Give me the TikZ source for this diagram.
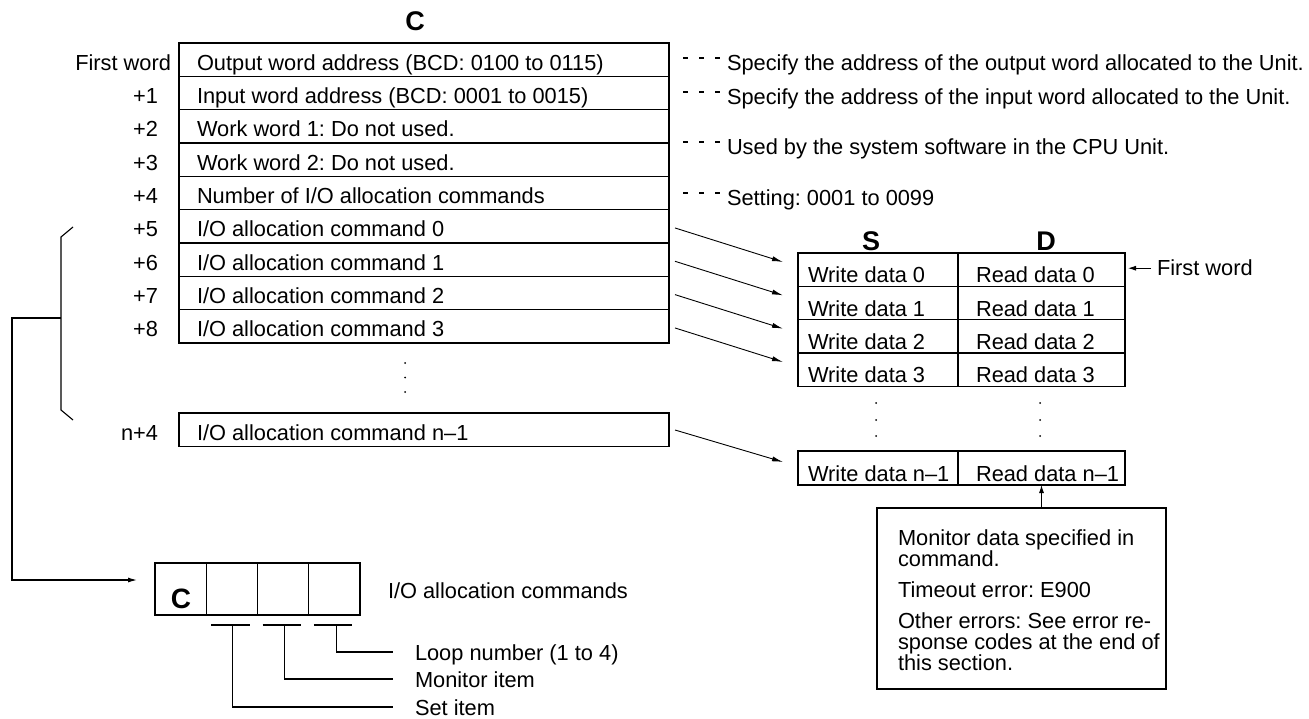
\documentclass[tikz,border=0pt]{standalone}
\usepackage{fontspec}
\setmainfont{Liberation Sans}
\usetikzlibrary{arrows.meta}
\begin{document}
\frenchspacing
\begin{tikzpicture}[x=1pt,y=-1pt,
  every node/.style={inner sep=0pt, outer sep=0pt},
  txt/.style={font=\fontsize{21.8}{24}\selectfont, text=black},
  bigl/.style={font=\bfseries\fontsize{27}{30}\selectfont, text=black},
  cell/.style={draw, line width=1.1pt, minimum width=490pt, minimum height=33.33pt, anchor=north west},
  scell/.style={draw, line width=1.1pt, minimum width=160pt, minimum height=33.33pt, anchor=north west},
  dcell/.style={draw, line width=1.1pt, minimum width=167pt, minimum height=33.33pt, anchor=north west},
  ccell/.style={draw, line width=1.1pt, minimum width=51.25pt, minimum height=52pt, anchor=north west},
  ln/.style={line width=1.1pt},
  arr/.style={line width=0.9pt, -{Latex[length=11pt,width=5pt]}},
  sarr/.style={line width=0.9pt, -{Latex[length=8pt,width=5pt]}},
  lead/.style={line width=1.1pt, dash pattern=on 5pt off 11pt},
  dotm/.style={fill=black, circle, minimum size=2pt},
]
\useasboundingbox (0,0) rectangle (1309,719);

% ---------- main table C ----------
\node[bigl, anchor=base] (ctitle) at (415,31) {C};
\foreach \i in {0,...,8} \node[cell] (r\i) at (179,{43+33.333*\i}) {};
\node[cell] (rn) at (179,413) {};

\node[txt, anchor=base west] (t0) at ([shift={(18,-6.3)}]r0.south west) {Output word address (BCD: 0100 to 0115)};
\node[txt, anchor=base west] (t1) at ([shift={(18,-6.3)}]r1.south west) {Input word address (BCD: 0001 to 0015)};
\node[txt, anchor=base west] (t2) at ([shift={(18,-6.3)}]r2.south west) {Work word 1: Do not used.};
\node[txt, anchor=base west] (t3) at ([shift={(18,-6.3)}]r3.south west) {Work word 2: Do not used.};
\node[txt, anchor=base west] (t4) at ([shift={(18,-6.3)}]r4.south west) {Number of I/O allocation commands};
\node[txt, anchor=base west] (t5) at ([shift={(18,-6.3)}]r5.south west) {I/O allocation command 0};
\node[txt, anchor=base west] (t6) at ([shift={(18,-6.3)}]r6.south west) {I/O allocation command 1};
\node[txt, anchor=base west] (t7) at ([shift={(18,-6.3)}]r7.south west) {I/O allocation command 2};
\node[txt, anchor=base west] (t8) at ([shift={(18,-6.3)}]r8.south west) {I/O allocation command 3};
\node[txt, anchor=base west] (tn) at ([shift={(18,-6.3)}]rn.south west) {I/O allocation command n\textendash1};

\node[txt, anchor=base east] (l0) at ([shift={(-8,-6.3)}]r0.south west) {First word};
\node[txt, anchor=base east] (l1) at ([shift={(-21,-6.3)}]r1.south west) {+1};
\node[txt, anchor=base east] (l2) at ([shift={(-21,-6.3)}]r2.south west) {+2};
\node[txt, anchor=base east] (l3) at ([shift={(-21,-6.3)}]r3.south west) {+3};
\node[txt, anchor=base east] (l4) at ([shift={(-21,-6.3)}]r4.south west) {+4};
\node[txt, anchor=base east] (l5) at ([shift={(-21,-6.3)}]r5.south west) {+5};
\node[txt, anchor=base east] (l6) at ([shift={(-21,-6.3)}]r6.south west) {+6};
\node[txt, anchor=base east] (l7) at ([shift={(-21,-6.3)}]r7.south west) {+7};
\node[txt, anchor=base east] (l8) at ([shift={(-21,-6.3)}]r8.south west) {+8};
\node[txt, anchor=base east] (ln4) at ([shift={(-21,-6.3)}]rn.south west) {n+4};

\node[dotm] (md1) at (405,363) {};
\node[dotm] (md2) at (405,377.5) {};
\node[dotm] (md3) at (405,392) {};

% ---------- right descriptions ----------
\node[txt, anchor=base west] (d0) at (727,71) {Specify the address of the output word allocated to the Unit.};
\node[txt, anchor=base west] (d1) at (727,105) {Specify the address of the input word allocated to the Unit.};
\node[txt, anchor=base west] (d2) at (727,155) {Used by the system software in the CPU Unit.};
\node[txt, anchor=base west] (d3) at (727,206) {Setting: 0001 to 0099};
\foreach \d in {d0,d1,d2,d3}
  \draw[lead] ([shift={(-44,-13)}]\d.base west) -- ++(37,0);

% ---------- bracket ----------
\coordinate (bt) at (73,227);
\coordinate (bb) at (73,420);
\coordinate (bm) at (61,318);
\coordinate (ctip) at (137,580);
\draw[ln] (bt) -- (61,237) -- (61,410) -- (bb);
\draw[ln, -{Latex[length=9pt,width=5pt]}] (bm) -| (12,580) -- (ctip);

% ---------- S / D table ----------
\foreach \k in {0,...,3} {
  \node[scell] (s\k) at (798,{253+33.333*\k}) {};
  \node[dcell] (e\k) at (958,{253+33.333*\k}) {};
  \node[txt, anchor=base west] (sw\k) at ([shift={(10,-3.5)}]s\k.south west) {Write data \k};
  \node[txt, anchor=base west] (sr\k) at ([shift={(18,-3.5)}]e\k.south west) {Read data \k};
}
\node[scell, minimum height=34pt] (sn) at (798,451) {};
\node[dcell, minimum height=34pt] (en) at (958,451) {};
\node[txt, anchor=base west] (swn) at ([shift={(10,-3.5)}]sn.south west) {Write data n\textendash1};
\node[txt, anchor=base west] (srn) at ([shift={(18,-3.5)}]en.south west) {Read data n\textendash1};

\node[bigl, anchor=base] (slab) at (871,251) {S};
\node[bigl, anchor=base] (dlab) at (1046,251) {D};

\node[dotm] (sd1) at (876,403) {};
\node[dotm] (sd2) at (876,420) {};
\node[dotm] (sd3) at (876,436) {};
\node[dotm] (ed1) at (1040,403) {};
\node[dotm] (ed2) at (1040,420) {};
\node[dotm] (ed3) at (1040,436) {};

\node[txt, anchor=base west] (fw) at (1157,276) {First word};
\draw[sarr] ([xshift=-6pt]fw.west) -- ([xshift=3pt]e0.east |- fw.west);

% arrows from commands
\draw[arr] ([shift={(6,18.3)}]r5.north east) -- ([shift={(-15,9)}]s0.north west);
\draw[arr] ([shift={(6,18.3)}]r6.north east) -- ([shift={(-15,9)}]s1.north west);
\draw[arr] ([shift={(6,18.3)}]r7.north east) -- ([shift={(-15,9)}]s2.north west);
\draw[arr] ([shift={(6,18.3)}]r8.north east) -- ([shift={(-15,9)}]s3.north west);
\draw[arr] ([shift={(6,17)}]rn.north east) -- ([shift={(-15,11)}]sn.north west);

% ---------- monitor box ----------
\node[draw, line width=1.1pt, anchor=north west, minimum width=289pt, minimum height=181pt] (mb) at (877,508) {};
\draw[sarr] (mb.north -| en.south) -- (en.south);
\node[txt, anchor=base west] (m1) at (898,545) {Monitor data specified in};
\node[txt, anchor=base west] (m2) at (898,566) {command.};
\node[txt, anchor=base west] (m3) at (898,597) {Timeout error: E900};
\node[txt, anchor=base west] (m4) at (898,628) {Other errors: See error re-};
\node[txt, anchor=base west] (m5) at (898,649) {sponse codes at the end of};
\node[txt, anchor=base west] (m6) at (898,670) {this section.};

% ---------- command format ----------
\node[ccell] (c0) at (155,563) {};
\node[ccell] (c1) at (206.25,563) {};
\node[ccell] (c2) at (257.5,563) {};
\node[ccell] (c3) at (308.75,563) {};
\node[font=\bfseries\fontsize{28}{30}\selectfont, anchor=base] (cc) at (181,608) {C};
\node[txt, anchor=base west] (ioc) at (388,598) {I/O allocation commands};

\foreach \c in {c1,c2,c3}
  \draw[ln] ([shift={(5,10)}]\c.south west) -- ([shift={(-8,10)}]\c.south east);

\node[txt, anchor=base west] (loop) at (415,660) {Loop number (1 to 4)};
\node[txt, anchor=base west] (mon) at (415,687) {Monitor item};
\node[txt, anchor=base west] (set) at (415,715) {Set item};
\coordinate (loopend) at (393,652);
\coordinate (monend) at (393,679);
\coordinate (setend) at (393,707);
\draw[ln] ([shift={(1,10)}]c1.south) |- (setend);
\draw[ln] ([shift={(1,10)}]c2.south) |- (monend);
\draw[ln] ([shift={(2,10)}]c3.south) |- (loopend);
\end{tikzpicture}
\end{document}
